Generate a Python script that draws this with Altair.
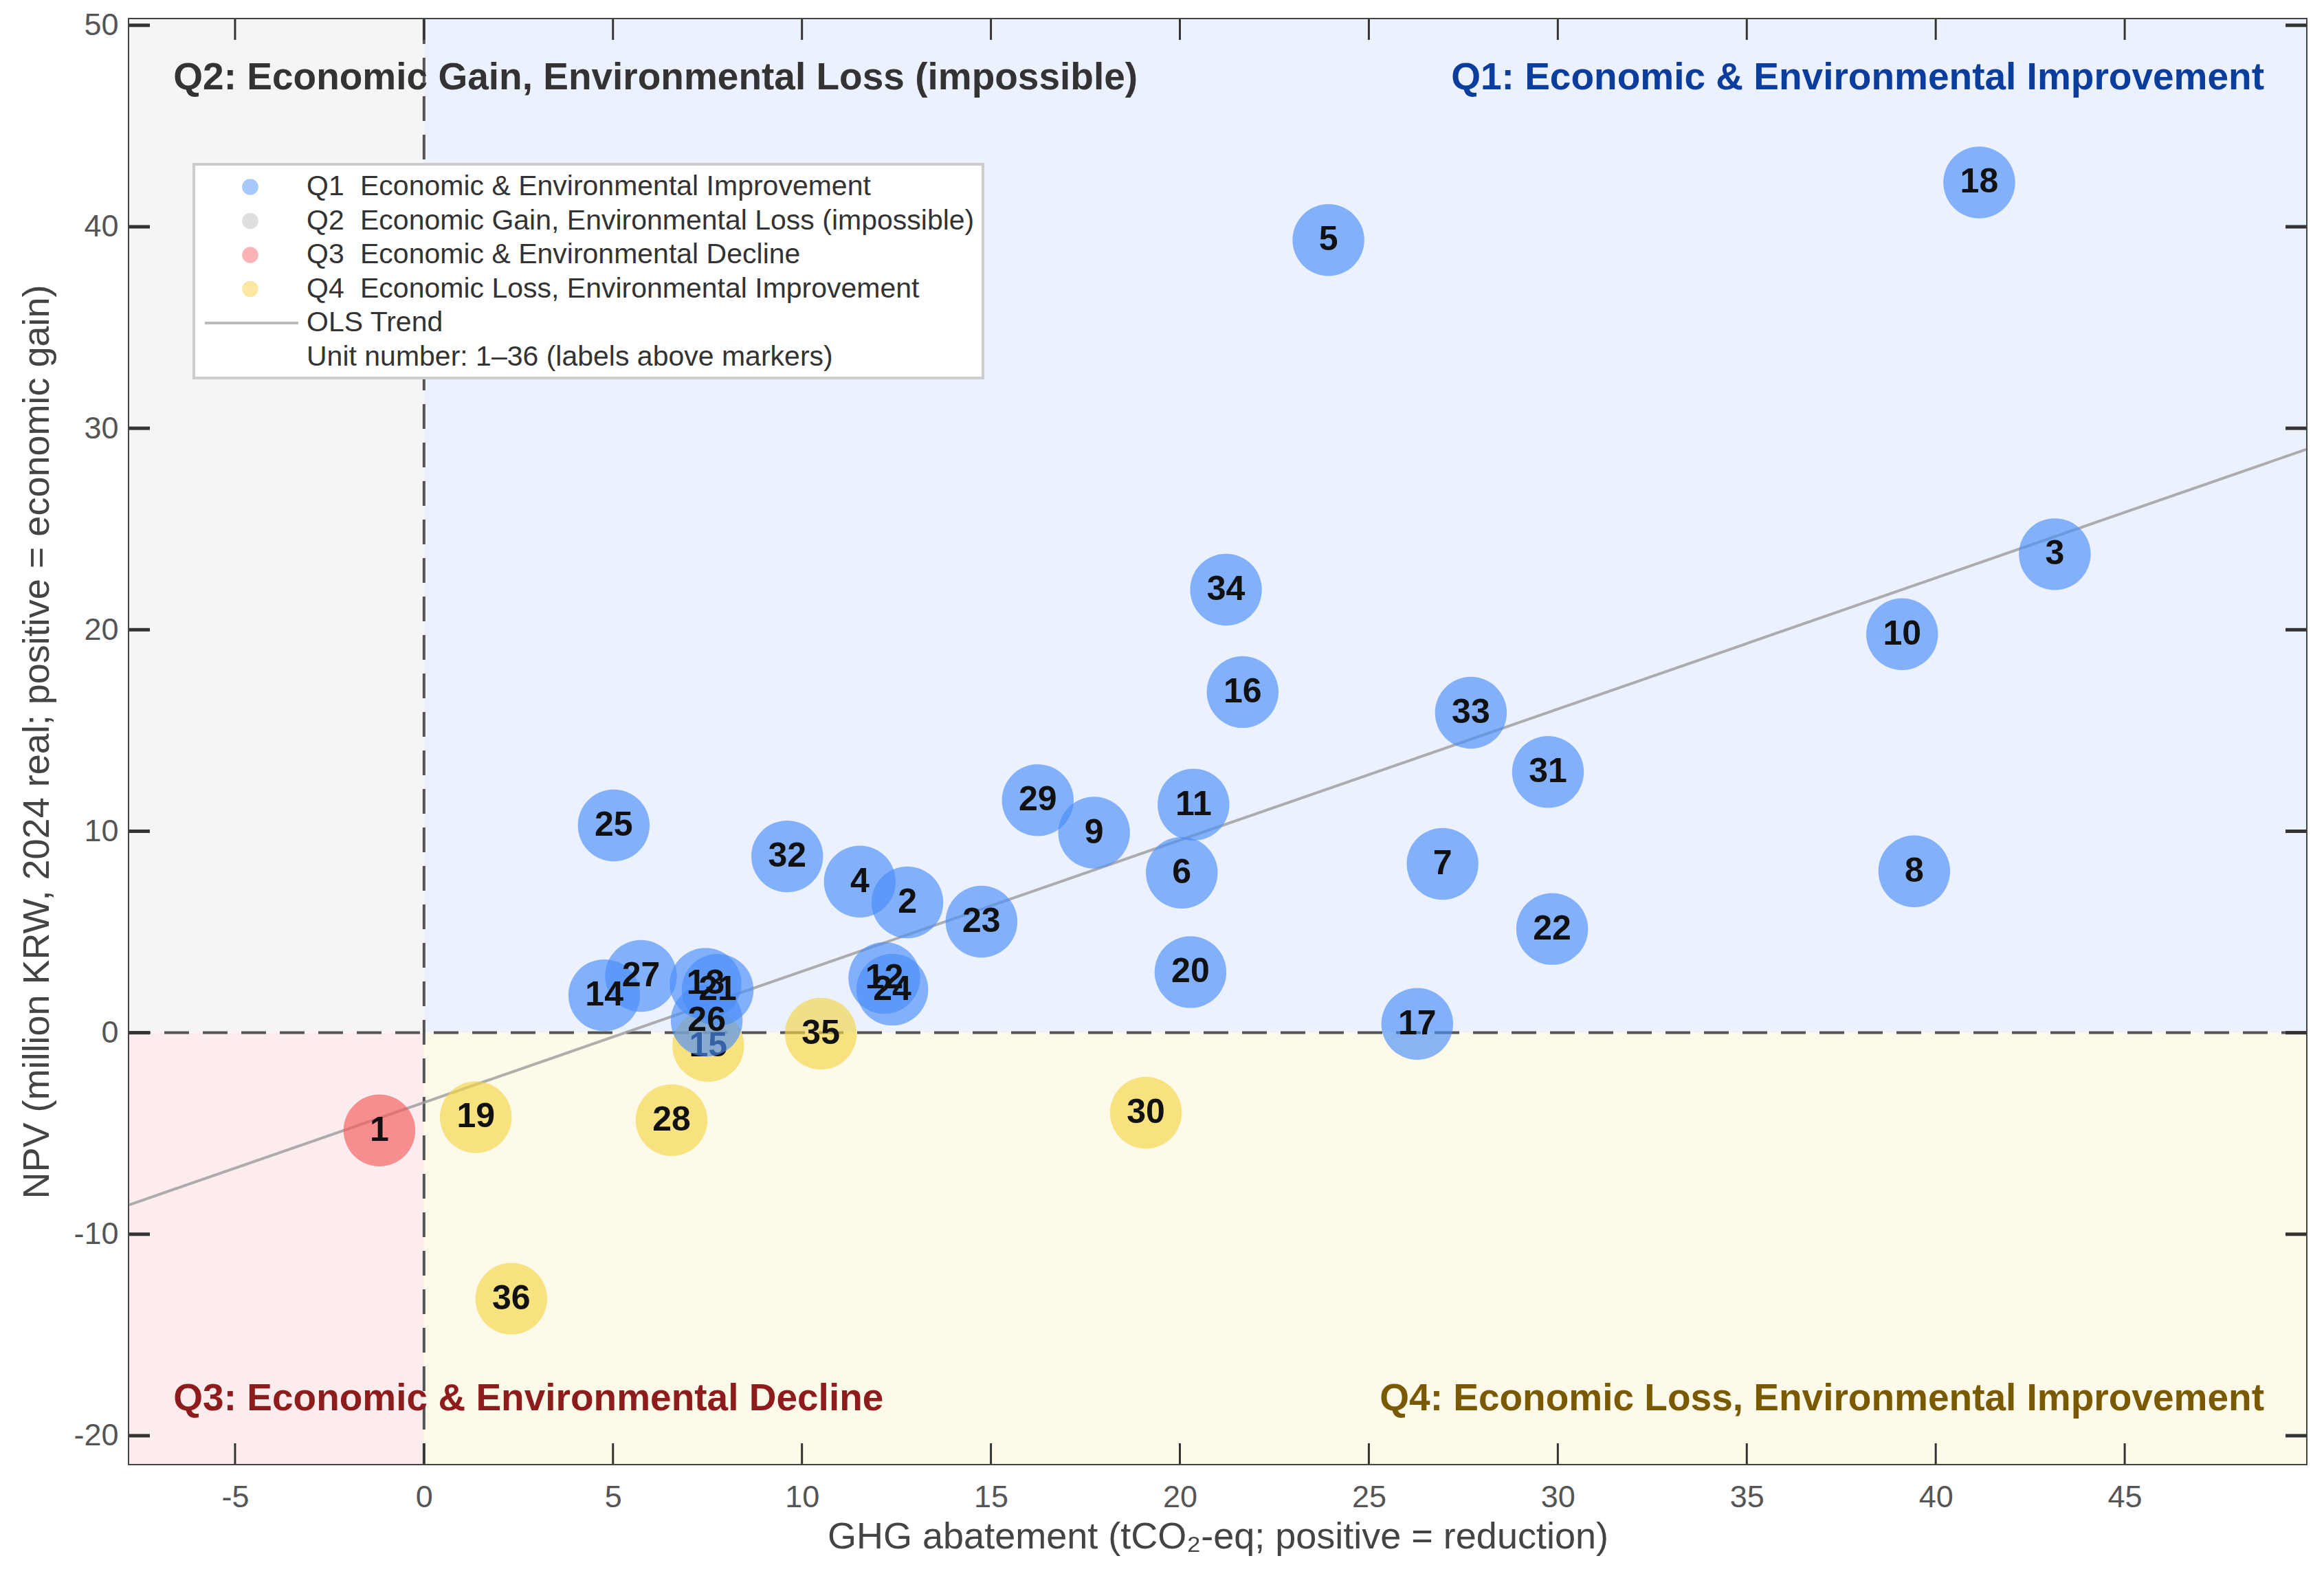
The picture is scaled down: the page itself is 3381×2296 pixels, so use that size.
import altair as alt
import pandas as pd

# ---------------- data ----------------
units = list(range(1, 37))
ghg = [-1.18, 12.79, 43.15, 11.53, 23.93, 20.05, 26.95, 39.43, 17.73, 39.11,
       20.36, 12.18, 7.45, 4.77, 7.52, 21.66, 26.28, 41.15, 1.37, 20.28,
       7.77, 29.85, 14.75, 12.39, 5.02, 7.48, 5.74, 6.55, 16.24, 19.10,
       29.74, 9.61, 27.70, 21.22, 10.50, 2.31]
npv = [-4.85, 6.47, 23.75, 7.50, 39.34, 7.94, 8.38, 8.01, 9.93, 19.78,
       11.32, 2.72, 2.43, 1.86, -0.65, 16.91, 0.44, 42.20, -4.19, 3.01,
       2.13, 5.15, 5.51, 2.14, 10.29, 0.60, 2.82, -4.34, 11.54, -3.97,
       12.94, 8.75, 15.88, 21.99, -0.05, -13.20]

quad_names = ["Q1", "Q2", "Q3", "Q4"]
quad_fill = ["#4a8ef8", "#bbbbbb", "#f35b5b", "#f5d547"]
quad_bg = ["#ebf1fe", "#f5f5f5", "#fdecee", "#fefaea"]
quad_label_text = [
    "Q1: Economic & Environmental Improvement",
    "Q2: Economic Gain, Environmental Loss (impossible)",
    "Q3: Economic & Environmental Decline",
    "Q4: Economic Loss, Environmental Improvement",
]
quad_label_color = ["#0b3d9c", "#333333", "#8e1c1c", "#7a5a00"]

legend_codes = ["Q1", "Q2", "Q3", "Q4"]
legend_labels = [
    "Economic & Environmental Improvement",
    "Economic Gain, Environmental Loss (impossible)",
    "Economic & Environmental Decline",
    "Economic Loss, Environmental Improvement",
]
legend_sym = ["#a9c8fb", "#dedede", "#fbb3b3", "#fbe9a2"]
legend_extra = ["OLS Trend", "Unit number: 1\u201336 (labels above markers)"]

x_ticks = [-5, 0, 5, 10, 15, 20, 25, 30, 35, 40, 45]
y_ticks = [-20, -10, 0, 10, 20, 30, 40, 50]
XD = [-7.8, 49.8]
YD = [-21.4, 50.3]

X_TITLE = "GHG abatement (tCO\u2082-eq; positive = reduction)"
Y_TITLE = "NPV (million KRW, 2024 real; positive = economic gain)"

# ---------------- setup ----------------
W, H = 3167, 2102
F = "Liberation Sans"


def quadrant(x, y):
    if x >= 0 and y >= 0:
        return "Q1"
    if x < 0 and y >= 0:
        return "Q2"
    if x < 0 and y < 0:
        return "Q3"
    return "Q4"


df = pd.DataFrame({"unit": units, "ghg": ghg, "npv": npv})
df["quad"] = [quadrant(a, b) for a, b in zip(ghg, npv)]

xs = alt.Scale(domain=XD, nice=False, zero=False)
ys = alt.Scale(domain=YD, nice=False, zero=False)

xaxis = alt.Axis(values=x_ticks, ticks=False, domain=False, grid=False,
                 labelFont=F, labelFontSize=45, labelColor="#555555",
                 labelPadding=26, labelExpr="datum.value + ''",
                 titleFont=F, titleFontSize=54, titleFontWeight="normal",
                 titleColor="#444444", titleY=106, titleBaseline="middle")
yaxis = alt.Axis(values=y_ticks, ticks=False, domain=False, grid=False,
                 labelFont=F, labelFontSize=45, labelColor="#555555",
                 labelPadding=16, labelExpr="datum.value + ''",
                 titleFont=F, titleFontSize=54, titleFontWeight="normal",
                 titleColor="#444444", titleX=-134, titleY=H / 2,
                 titleBaseline="middle", titleAngle=270)


def X(f):
    return alt.X(f, type="quantitative", scale=xs, axis=xaxis, title=X_TITLE)


def Y(f):
    return alt.Y(f, type="quantitative", scale=ys, axis=yaxis, title=Y_TITLE)


qcolor = alt.Color("quad:N", scale=alt.Scale(domain=quad_names, range=quad_fill), legend=None)

# quadrant backgrounds
bg_df = pd.DataFrame({
    "quad": quad_names,
    "x": [0, XD[0], XD[0], 0],
    "x2": [XD[1], 0, 0, XD[1]],
    "y": [0, 0, YD[0], YD[0]],
    "y2": [YD[1], YD[1], 0, 0],
    "fill": quad_bg,
})
bg = alt.Chart(bg_df).mark_rect().encode(
    x=X("x"), x2="x2", y=Y("y"), y2="y2",
    fill=alt.Fill("fill:N", scale=None))

zero_df = pd.DataFrame({"v": [0]})
vline = alt.Chart(zero_df).mark_rule(color="#555555", strokeWidth=4, strokeDash=[36, 20]).encode(x=X("v"))
hline = alt.Chart(zero_df).mark_rule(color="#555555", strokeWidth=4, strokeDash=[36, 20]).encode(y=Y("v"))

trend = alt.Chart(df).transform_regression("ghg", "npv", extent=XD).mark_line(
    color="#a0a0a0", strokeWidth=4, opacity=0.85).encode(x=X("ghg"), y=Y("npv"))

lower = df[df["quad"] != "Q1"]
upper = df[df["quad"] == "Q1"]


def pts(d):
    return alt.Chart(d).mark_circle(size=10900, opacity=0.65).encode(
        x=X("ghg"), y=Y("npv"), color=qcolor)


def lbl(d):
    return alt.Chart(d).mark_text(font=F, fontSize=50, fontWeight="bold", color="#111111",
                                  align="center", baseline="middle").encode(
        x=X("ghg"), y=Y("npv"), text="unit:N")


# quadrant captions
cap_df = pd.DataFrame({
    "t": quad_label_text,
    "x": [48.69, -6.63, -6.63, 48.69],
    "y": [47.4, 47.4, -18.16, -18.16],
    "c": quad_label_color,
    "side": ["r", "l", "l", "r"],
})
cap_l = alt.Chart(cap_df[cap_df.side == "l"]).mark_text(
    font=F, fontSize=55, fontWeight="bold", align="left", baseline="middle").encode(
    x=X("x"), y=Y("y"), text="t:N", color=alt.Color("c:N", scale=None))
cap_r = alt.Chart(cap_df[cap_df.side == "r"]).mark_text(
    font=F, fontSize=55, fontWeight="bold", align="right", baseline="middle").encode(
    x=X("x"), y=Y("y"), text="t:N", color=alt.Color("c:N", scale=None))

# inward ticks
xt_df = pd.DataFrame({"t": x_ticks})
yt_df = pd.DataFrame({"t": y_ticks})
tick_layers = [
    alt.Chart(xt_df).mark_rule(color="#333333", strokeWidth=3).encode(
        x=X("t"), y=alt.value(H), y2=alt.value(H - 30)),
    alt.Chart(xt_df).mark_rule(color="#333333", strokeWidth=3).encode(
        x=X("t"), y=alt.value(0), y2=alt.value(30)),
    alt.Chart(yt_df).mark_rule(color="#333333", strokeWidth=5).encode(
        y=Y("t"), x=alt.value(0), x2=alt.value(30)),
    alt.Chart(yt_df).mark_rule(color="#333333", strokeWidth=5).encode(
        y=Y("t"), x=alt.value(W), x2=alt.value(W - 30)),
]

# manual legend
one = pd.DataFrame({"a": [0]})
leg = [alt.Chart(one).mark_rect(fill="white", stroke="#cccccc", strokeWidth=4).encode(
    x=alt.value(94), x2=alt.value(1242), y=alt.value(211), y2=alt.value(522))]
row_y = [244 + 49.5 * i for i in range(6)]
for i in range(4):
    leg.append(alt.Chart(one).mark_circle(size=560, opacity=1, color=legend_sym[i]).encode(
        x=alt.value(176), y=alt.value(row_y[i])))
    leg.append(alt.Chart(one).mark_text(font=F, fontSize=41, color="#333333", align="left",
                                        baseline="middle").encode(
        x=alt.value(258), y=alt.value(row_y[i]), text=alt.value(legend_codes[i])))
    leg.append(alt.Chart(one).mark_text(font=F, fontSize=41, color="#333333", align="left",
                                        baseline="middle").encode(
        x=alt.value(336), y=alt.value(row_y[i]), text=alt.value(legend_labels[i])))
leg.append(alt.Chart(one).mark_rule(color="#bbbbbb", strokeWidth=4).encode(
    x=alt.value(110), x2=alt.value(246), y=alt.value(row_y[4])))
for j in range(2):
    leg.append(alt.Chart(one).mark_text(font=F, fontSize=41, color="#333333", align="left",
                                        baseline="middle").encode(
        x=alt.value(258), y=alt.value(row_y[4 + j]), text=alt.value(legend_extra[j])))

chart = alt.layer(
    bg, vline, hline, trend,
    pts(lower), lbl(lower), pts(upper), lbl(upper),
    cap_l, cap_r, *tick_layers, *leg
).properties(
    width=W, height=H,
    autosize=alt.AutoSizeParams(type="none"),
    padding={"left": 180, "top": 20, "right": 18, "bottom": 150},
    background="white",
).configure_view(stroke="#444444", strokeWidth=4)

chart.save("out.html", embed_options={"renderer": "svg", "actions": False})
